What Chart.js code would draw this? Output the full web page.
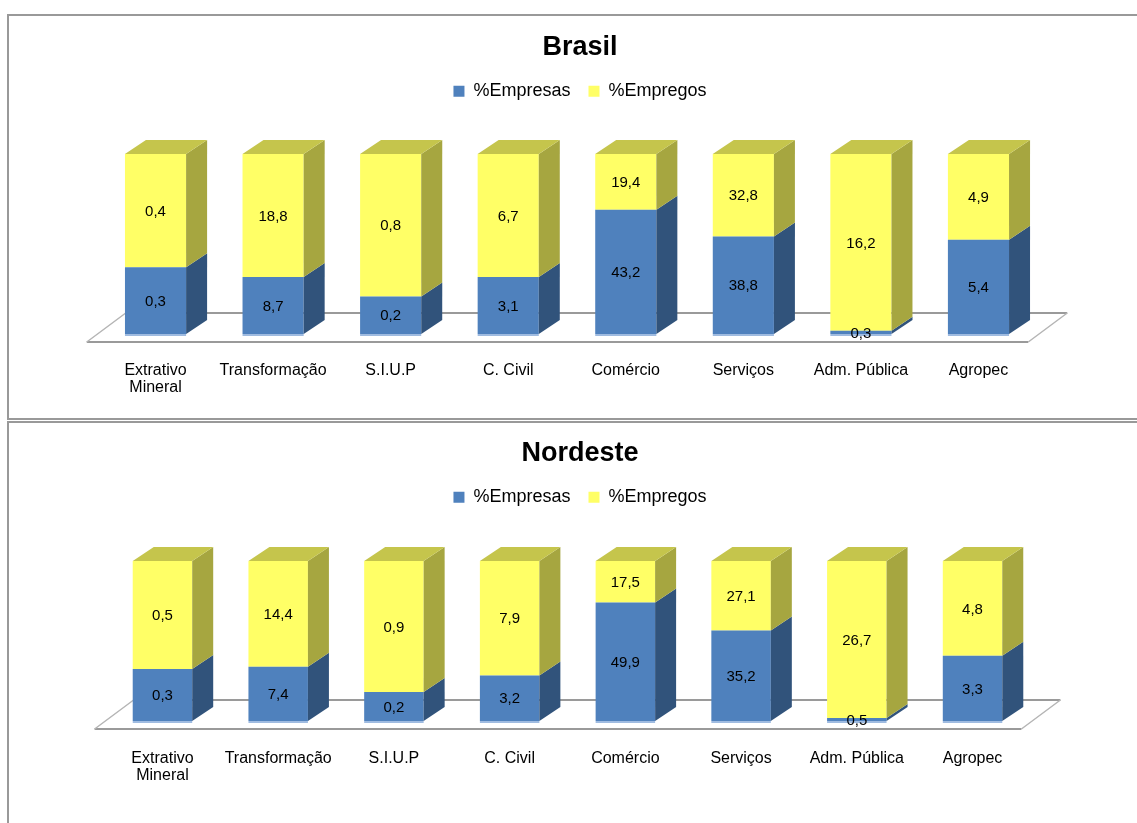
<!DOCTYPE html>
<html>
<head>
<meta charset="utf-8">
<script src="https://cdn.jsdelivr.net/npm/chart.js@4.4.1/dist/chart.umd.min.js"></script>
<style>
  body { margin: 0; width: 1137px; height: 823px; overflow: hidden; background: #fff; position: relative; }
  .frame { position: absolute; border: 2px solid #999; }
  canvas { position: absolute; left: 0; }
</style>
</head>
<body>
<div class="frame" style="left:7px; top:14px; width:1160px; height:402px;"></div>
<div class="frame" style="left:7px; top:421px; width:1160px; height:420px;"></div>
<canvas id="brasil" width="1200" height="418" style="top:0"></canvas>
<canvas id="nordeste" width="1200" height="402" style="top:421px"></canvas>
<script>
// sectors on the x axis
var sectors = [['Extrativo', 'Mineral'], 'Transformação', 'S.I.U.P', 'C. Civil', 'Comércio', 'Serviços', 'Adm. Pública', 'Agropec'];

// values shown in the bars (%), labels are rounded to one decimal
var brasilEmpresas = [0.26, 8.7, 0.21, 3.1, 43.2, 38.8, 0.3, 5.4];
var brasilEmpregos = [0.44, 18.8, 0.8, 6.7, 19.4, 32.8, 16.2, 4.9];

var nordesteEmpresas = [0.26, 7.4, 0.2, 3.16, 49.9, 35.2, 0.5, 3.3];
var nordesteEmpregos = [0.54, 14.4, 0.9, 7.94, 17.5, 27.1, 26.7, 4.8];

Chart.defaults.font.family = '"Liberation Sans", Arial, sans-serif';
Chart.defaults.color = '#000';

// fake 3D: floor, side and top faces, value labels
var box3d = {
  id: 'box3d',
  beforeDatasetsDraw: function(chart, args, o) {
    var a = chart.chartArea, ctx = chart.ctx;
    var fl = a.left + o.floorLeft, fr = a.right + o.floorRight, fy = a.bottom + o.floorY;
    ctx.save();
    ctx.strokeStyle = '#9a9a9a';
    ctx.lineWidth = 2;
    ctx.beginPath();
    ctx.moveTo(fl + o.floorDx, fy + o.floorDy);
    ctx.lineTo(fr + o.floorDx, fy + o.floorDy);
    ctx.moveTo(fl, fy);
    ctx.lineTo(fr, fy);
    ctx.stroke();
    ctx.strokeStyle = '#b5b5b5';
    ctx.lineWidth = 1.5;
    ctx.beginPath();
    ctx.moveTo(fl, fy);
    ctx.lineTo(fl + o.floorDx, fy + o.floorDy);
    ctx.moveTo(fr, fy);
    ctx.lineTo(fr + o.floorDx, fy + o.floorDy);
    ctx.stroke();
    ctx.restore();
  },
  afterDatasetsDraw: function(chart, args, o) {
    var ctx = chart.ctx, n = chart.data.datasets.length;
    var dx = o.dx, dy = o.dy;
    ctx.save();
    chart.data.datasets.forEach(function(ds, i) {
      chart.getDatasetMeta(i).data.forEach(function(el) {
        var l = el.x - el.width / 2, r = el.x + el.width / 2;
        var top = Math.min(el.y, el.base), bot = Math.max(el.y, el.base);
        ctx.fillStyle = ds.sideColor;
        ctx.beginPath();
        ctx.moveTo(r, top);
        ctx.lineTo(r + dx, top + dy);
        ctx.lineTo(r + dx, bot + dy);
        ctx.lineTo(r, bot);
        ctx.closePath();
        ctx.fill();
        if (i === n - 1) {
          ctx.fillStyle = ds.topColor;
          ctx.beginPath();
          ctx.moveTo(l, top);
          ctx.lineTo(l + dx, top + dy);
          ctx.lineTo(r + dx, top + dy);
          ctx.lineTo(r, top);
          ctx.closePath();
          ctx.fill();
        }
        if (i === 0) {
          ctx.fillStyle = '#9fbbe0';
          ctx.fillRect(l, bot, el.width, 2);
        }
      });
    });
    ctx.font = '15px "Liberation Sans", Arial, sans-serif';
    ctx.fillStyle = '#000';
    ctx.textAlign = 'center';
    ctx.textBaseline = 'middle';
    chart.data.datasets.forEach(function(ds, i) {
      chart.getDatasetMeta(i).data.forEach(function(el, j) {
        var txt = ds.values[j].toFixed(1).replace('.', ',');
        ctx.fillText(txt, el.x, (el.y + el.base) / 2 + 1);
      });
    });
    ctx.restore();
  }
};

function makeChart(id, title, empresas, empregos, lay) {
  var total = empresas.map(function(v, i) { return v + empregos[i]; });
  return new Chart(document.getElementById(id), {
    type: 'bar',
    data: {
      labels: sectors,
      datasets: [
        {
          label: '%Empresas',
          data: empresas.map(function(v, i) { return v / total[i] * 100; }),
          values: empresas,
          backgroundColor: '#4f81bd',
          sideColor: '#31537b',
          topColor: '#7da0cf'
        },
        {
          label: '%Empregos',
          data: empregos.map(function(v, i) { return v / total[i] * 100; }),
          values: empregos,
          backgroundColor: '#ffff66',
          sideColor: '#a6a640',
          topColor: '#c5c54c'
        }
      ]
    },
    options: {
      responsive: false,
      animation: false,
      events: [],
      layout: { padding: { left: lay.left, right: lay.right, top: 0, bottom: 0 } },
      datasets: { bar: { barPercentage: lay.barPct, categoryPercentage: 1 } },
      scales: {
        x: {
          stacked: true,
          grid: { display: false, drawTicks: false },
          border: { display: false },
          ticks: { padding: lay.tickPad, maxRotation: 0, autoSkip: false, font: { size: 16, lineHeight: 1.0625 } },
          afterFit: function(scale) { scale.height = lay.axisH; }
        },
        // invisible axis, only keeps room on the right so the title sits off-centre like the original
        y: {
          stacked: true,
          position: 'right',
          min: 0,
          max: 100,
          grid: { display: false },
          border: { display: false },
          ticks: { display: false },
          afterFit: function(scale) { scale.width = lay.yW; }
        }
      },
      plugins: {
        title: {
          display: true,
          text: title,
          font: { size: 27, weight: 'bold' },
          padding: { top: lay.titleTop, bottom: 0 }
        },
        legend: {
          labels: { boxWidth: 11, boxHeight: 11, padding: 18, font: { size: 18 } }
        },
        // empty spacer between the legend and the bars
        subtitle: {
          display: true,
          text: ' ',
          weight: 500,
          font: { size: 1 },
          padding: { top: 0, bottom: lay.gap }
        },
        tooltip: { enabled: false },
        box3d: { dx: 21, dy: -14, floorLeft: -10, floorRight: -9, floorY: 8, floorDx: 39, floorDy: -29 }
      }
    },
    plugins: [box3d]
  });
}

makeChart('brasil', 'Brasil', brasilEmpresas, brasilEmpregos,
  { left: 96.75, right: 136.75, yW: 26, axisH: 84, tickPad: 28.5, titleTop: 31.8, gap: 42.6, barPct: 0.52 });
makeChart('nordeste', 'Nordeste', nordesteEmpresas, nordesteEmpregos,
  { left: 104.6, right: 144.6, yW: 25, axisH: 102, tickPad: 29.5, titleTop: 16.8, gap: 43.6, barPct: 0.514 });
</script>
</body>
</html>
